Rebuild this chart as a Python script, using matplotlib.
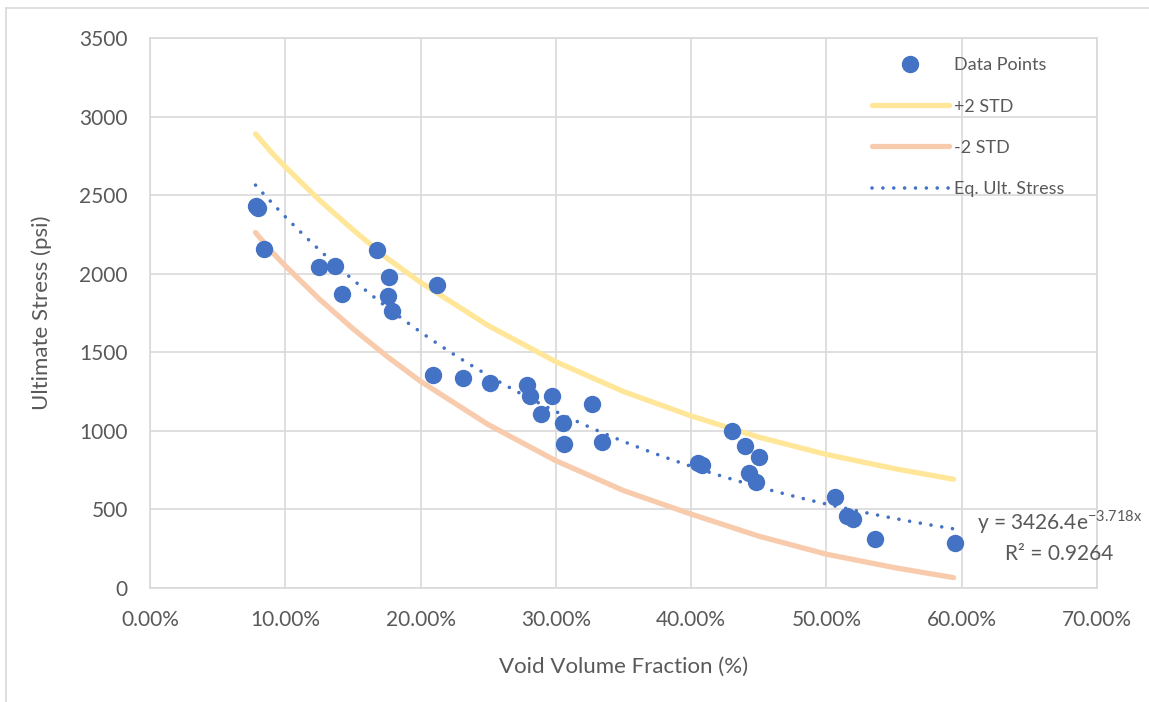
import numpy as np
import matplotlib
matplotlib.use("Agg")
import matplotlib.pyplot as plt
from matplotlib.ticker import PercentFormatter, MultipleLocator
from matplotlib.lines import Line2D

plt.rcParams['font.family'] = ['Lato', 'DejaVu Sans']
plt.rcParams['mathtext.fontset'] = 'custom'
plt.rcParams['mathtext.rm'] = 'Lato'

TEXT = '#595959'
GRID = '#D9D9D9'
BLUE = '#4472C4'

# measured void fraction vs. ultimate stress
void_frac = [0.078, 0.080, 0.084, 0.125, 0.137, 0.142, 0.168, 0.177, 0.176, 0.179,
             0.212, 0.209, 0.231, 0.251, 0.279, 0.281, 0.289, 0.297, 0.305, 0.306,
             0.327, 0.334, 0.405, 0.408, 0.430, 0.440, 0.443, 0.448, 0.450, 0.506,
             0.515, 0.520, 0.536, 0.595]
ult_stress = [2430, 2415, 2160, 2040, 2050, 1870, 2150, 1980, 1855, 1760,
              1925, 1355, 1335, 1305, 1295, 1220, 1105, 1225, 1050, 915,
              1170, 932, 796, 780, 997, 902, 732, 675, 832, 580,
              459, 437, 315, 285]

# +/- 2 standard deviation bands
band_x = [0.078, 0.09, 0.10, 0.125, 0.15, 0.175, 0.20, 0.25, 0.30, 0.35,
          0.40, 0.45, 0.50, 0.55, 0.594]
upper_2std = [2890, 2770, 2680, 2470, 2280, 2100, 1945, 1670, 1440, 1250,
              1095, 960, 850, 760, 692]
lower_2std = [2262, 2140, 2050, 1840, 1650, 1475, 1315, 1040, 810, 620,
              470, 330, 215, 130, 66]

# exponential fit  y = a * exp(b x)
fit_a = 3426.4
fit_b = -3.718
fit_r2 = 0.9264
fit_range = (0.078, 0.594)

fig = plt.figure(figsize=(11.49, 7.02), dpi=100)
ax = fig.add_axes([150 / 1149, 1 - 588 / 702, 947 / 1149, 550 / 702])

# chart area outline
fig.add_artist(Line2D([5.5 / 1149, 5.5 / 1149], [0, 1 - 7.7 / 702],
                      color=GRID, lw=1.2, transform=fig.transFigure))
fig.add_artist(Line2D([5.5 / 1149, 1], [1 - 7.7 / 702, 1 - 7.7 / 702],
                      color=GRID, lw=1.2, transform=fig.transFigure))

ax.plot(band_x, upper_2std, color='#FFE699', lw=3.8, solid_capstyle='round',
        label='+2 STD', zorder=2)
ax.plot(band_x, lower_2std, color='#F8CBAD', lw=3.8, solid_capstyle='round',
        label='-2 STD', zorder=2)
ax.plot(void_frac, ult_stress, 'o', color=BLUE, ms=11.5, mec=BLUE,
        label='Data Points', zorder=3)

xf = np.linspace(fit_range[0], fit_range[1], 200)
ax.plot(xf, fit_a * np.exp(fit_b * xf), color=BLUE, lw=2.6,
        dashes=(0.01, 3.0), dash_capstyle='round', label='Eq. Ult. Stress',
        zorder=4)

ax.set_xlim(0, 0.7)
ax.set_ylim(0, 3500)
ax.xaxis.set_major_locator(MultipleLocator(0.1))
ax.yaxis.set_major_locator(MultipleLocator(500))
ax.xaxis.set_major_formatter(PercentFormatter(xmax=1, decimals=2))
ax.grid(True, color=GRID, lw=1.2)
ax.set_axisbelow(True)
for s in ax.spines.values():
    s.set_color(GRID)
    s.set_linewidth(1.2)
ax.tick_params(length=0, labelsize=15, colors=TEXT)
ax.tick_params(axis='y', pad=16)
ax.tick_params(axis='x', pad=16)

ax.set_xlabel('Void Volume Fraction (%)', fontsize=16, color=TEXT)
ax.set_ylabel('Ultimate Stress (psi)', fontsize=16, color=TEXT)
ax.xaxis.set_label_coords(0.5, -0.126)
ax.yaxis.set_label_coords(-0.103, 0.5)

h, l = ax.get_legend_handles_labels()
order = [2, 0, 1, 3]
leg = ax.legend([h[i] for i in order], [l[i] for i in order],
                loc='upper left', bbox_to_anchor=(0.762, 0.965), frameon=False,
                borderpad=0, borderaxespad=0, handlelength=4.3,
                handletextpad=0.25, labelspacing=1.4, fontsize=13)
for t in leg.get_texts():
    t.set_color(TEXT)

ax.text(0.96, 0.0945,
        'y = %.1fe$^{\\mathregular{%.3fx}}$\nR\u00b2 = %.4f' % (fit_a, fit_b, fit_r2),
        transform=ax.transAxes, ha='center', va='center', fontsize=15,
        color=TEXT, linespacing=1.5, clip_on=False)

fig.savefig('out.png', dpi=100)
